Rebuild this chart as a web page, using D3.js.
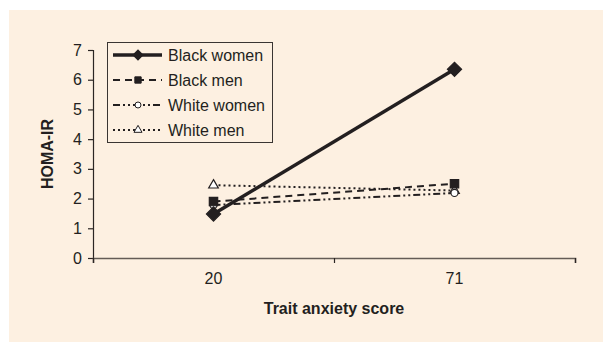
<!DOCTYPE html>
<html>
<head>
<meta charset="utf-8">
<script src="https://cdn.jsdelivr.net/npm/d3@7"></script>
<style>
  html, body { margin: 0; padding: 0; background: #ffffff; }
  svg { display: block; }
  text { font-family: "Liberation Sans", Arial, sans-serif; fill: #231f20; }
</style>
</head>
<body>
<svg id="chart" width="603" height="342"></svg>
<script>
// ---- data ----
const categories = ["20", "71"];
const seriesNames = ["Black women", "Black men", "White women", "White men"];
const blackWomen = [1.48, 6.35];
const blackMen = [1.9, 2.5];
const whiteWomen = [1.78, 2.19];
const whiteMen = [2.45, 2.27];
const yTicks = [0, 1, 2, 3, 4, 5, 6, 7];
const xTitle = "Trait anxiety score";
const yTitle = "HOMA-IR";

(function () {
// ---- styles ----
const styles = [
  { values: blackWomen, dash: null, width: 3.5, symbol: "diamond", size: 100, legendSize: 50, fill: "#231f20" },
  { values: blackMen, dash: "7,5", width: 2, symbol: "square", size: 70, legendSize: 40, fill: "#231f20" },
  { values: whiteWomen, dash: "7,3,2,3,2,3", width: 2, symbol: "circle", size: 40, legendSize: 28, fill: "#ffffff" },
  { values: whiteMen, dash: "2,3", width: 2, symbol: "triangle", size: 40, legendSize: 28, fill: "#ffffff" }
];

const svg = d3.select("#chart");
svg.append("rect").attr("x", 9).attr("y", 10).attr("width", 594).attr("height", 332).attr("fill", "#fdf0e1");

const mLeft = 93, mRight = 575, mTop = 50, mBottom = 258;
const x = d3.scaleBand().domain(categories).range([mLeft, mRight]).padding(0);
const xEdges = d3.scaleLinear().domain([0, categories.length]).range([mLeft, mRight]);
const y = d3.scaleLinear().domain([0, 7]).range([mBottom, mTop]);
const cx = c => x(c) + x.bandwidth() / 2;

// y axis
const gy = svg.append("g").attr("transform", `translate(${mLeft},0)`)
  .call(d3.axisLeft(y).tickValues(yTicks).tickSize(5).tickPadding(6).tickFormat(d3.format("d")));
gy.select(".domain").attr("stroke", "#2b2623").attr("stroke-width", 1.2);
gy.selectAll(".tick line").attr("stroke", "#2b2623").attr("stroke-width", 1.2);
gy.selectAll(".tick text").attr("font-size", 16).attr("font-family", "Liberation Sans, Arial, sans-serif").attr("fill", "#231f20");

// x axis: tick marks at category boundaries
const gx = svg.append("g").attr("transform", `translate(0,${mBottom})`)
  .call(d3.axisBottom(xEdges).tickValues(d3.range(categories.length + 1)).tickSize(5).tickFormat(""));
gx.select(".domain").attr("stroke", "#645c56").attr("stroke-width", 1.6);
gx.selectAll(".tick line").attr("stroke", "#2b2623").attr("stroke-width", 1.2);
// x labels at band centers
const gxl = svg.append("g").attr("transform", `translate(0,${mBottom})`)
  .call(d3.axisBottom(x).tickSize(0).tickPadding(15));
gxl.select(".domain").remove();
gxl.selectAll(".tick text").attr("font-size", 16).attr("font-family", "Liberation Sans, Arial, sans-serif").attr("fill", "#231f20");

// titles
svg.append("text").attr("x", (mLeft + mRight) / 2).attr("y", 314).attr("text-anchor", "middle")
  .attr("font-size", 16).attr("font-weight", "bold").text(xTitle);
svg.append("text").attr("transform", `translate(53,${(mTop + mBottom) / 2}) rotate(-90)`).attr("text-anchor", "middle")
  .attr("font-size", 16).attr("font-weight", "bold").text(yTitle);

function symbolPath(s, size) {
  if (s === "diamond") return d3.symbol(d3.symbolSquare, size)();
  if (s === "square") return d3.symbol(d3.symbolSquare, size)();
  if (s === "circle") return d3.symbol(d3.symbolCircle, size)();
  return d3.symbol(d3.symbolTriangle, size)();
}
function rot(s) { return s === "diamond" ? " rotate(45)" : ""; }

const line = d3.line().x((d, i) => cx(categories[i])).y(d => y(d));

// draw series in reverse order so Black women is on top
const order = [3, 2, 1, 0];
order.forEach(k => {
  const st = styles[k];
  svg.append("path").attr("d", line(st.values)).attr("fill", "none")
    .attr("stroke", "#231f20").attr("stroke-width", st.width)
    .attr("stroke-dasharray", st.dash);
});
order.forEach(k => {
  const st = styles[k];
  svg.selectAll(null).data(st.values).enter().append("path")
    .attr("d", symbolPath(st.symbol, st.size))
    .attr("transform", (d, i) => `translate(${cx(categories[i])},${y(d)})${rot(st.symbol)}`)
    .attr("fill", st.fill).attr("stroke", "#231f20").attr("stroke-width", 1.2);
});

// legend
const lg = svg.append("g");
lg.append("rect").attr("x", 107.5).attr("y", 42.5).attr("width", 165).attr("height", 100)
  .attr("fill", "#fdf0e1").attr("stroke", "#3a3532").attr("stroke-width", 1);
const rowY = d3.scalePoint().domain(seriesNames).range([55, 130]);
seriesNames.forEach((name, k) => {
  const st = styles[k];
  const yy = rowY(name);
  lg.append("line").attr("x1", 113).attr("x2", 162).attr("y1", yy).attr("y2", yy)
    .attr("stroke", "#231f20").attr("stroke-width", st.width).attr("stroke-dasharray", st.dash);
  lg.append("path").attr("d", symbolPath(st.symbol, st.legendSize))
    .attr("transform", `translate(138,${yy})${rot(st.symbol)}`)
    .attr("fill", st.fill).attr("stroke", "#231f20").attr("stroke-width", 1);
  lg.append("text").attr("x", 168).attr("y", yy + 5.5).attr("font-size", 16).text(name);
});
})();
</script>
</body>
</html>
